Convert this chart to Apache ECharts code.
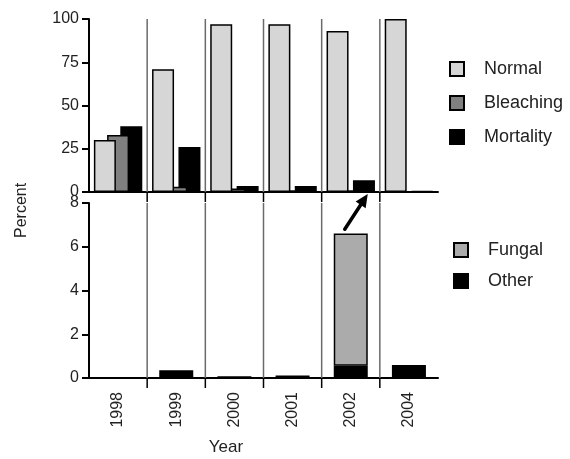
<!DOCTYPE html>
<html>
<head>
<meta charset="utf-8">
<script src="https://cdn.jsdelivr.net/npm/echarts@6/dist/echarts.min.js"></script>
<style>
  html, body { margin: 0; padding: 0; background: #fff; }
  #chart { width: 570px; height: 459px; }
</style>
</head>
<body>
<div id="chart"></div>
<script>
// Survey years
const years = ['1998', '1999', '2000', '2001', '2002', '2004'];

// Upper panel: colony condition (%)
const normal = [30, 71, 97, 97, 93, 100];
const bleaching = [33, 3, 2, 1, 1, 0.3];
const mortality = [38, 26, 3.5, 3.5, 6.8, 0.5];

// Lower panel: cause of mortality (%)
const fungal = [0, 0, 0, 0, 6.05, 0];
const other = [0.03, 0.36, 0.08, 0.12, 0.56, 0.6];

// Tick values
const topTicks = [0, 25, 50, 75, 100];
const bottomTicks = [0, 2, 4, 6, 8];

// Category boundaries where the vertical separators sit
const boundaries = [1, 2, 3, 4, 5];

const FONT = "'Liberation Sans', Arial, Helvetica, sans-serif";
const TXT = '#222';

const chart = echarts.init(document.getElementById('chart'), null, { renderer: 'canvas' });

function separatorSeries(gridIdx, yTop) {
  return {
    type: 'custom',
    xAxisIndex: gridIdx + 2,
    yAxisIndex: gridIdx,
    z: 1,
    silent: true,
    data: boundaries.map(b => [b, 0]),
    renderItem: function (params, api) {
      const top = api.coord([api.value(0), yTop]);
      const bot = api.coord([api.value(0), 0]);
      return {
        type: 'group',
        children: [
          { type: 'line', shape: { x1: bot[0], y1: top[1], x2: bot[0], y2: bot[1] },
            style: { stroke: '#6a6a6a', lineWidth: 1.5 } },
          { type: 'line', shape: { x1: bot[0], y1: bot[1], x2: bot[0], y2: bot[1] + 10 },
            style: { stroke: '#000', lineWidth: 1.5 } }
        ]
      };
    }
  };
}

const barBorder = { borderColor: '#000', borderWidth: 1.5 };

chart.setOption({
  animation: false,
  textStyle: { fontFamily: FONT },
  grid: [
    { left: 89, top: 19, width: 349, height: 173 },
    { left: 89, top: 203, width: 349, height: 175 }
  ],
  legend: [
    {
      data: ['Normal', 'Bleaching', 'Mortality'],
      orient: 'vertical', left: 444, top: 55,
      itemWidth: 14, itemHeight: 14, itemGap: 16,
      icon: 'rect',
      textStyle: { fontSize: 18, color: TXT, fontFamily: FONT, padding: [0, 0, 0, 15] }
    },
    {
      data: ['Fungal', 'Other'],
      orient: 'vertical', left: 448, top: 236,
      itemWidth: 14, itemHeight: 14, itemGap: 13,
      icon: 'rect',
      textStyle: { fontSize: 18, color: TXT, fontFamily: FONT, padding: [0, 0, 0, 15] }
    }
  ],
  xAxis: [
    { type: 'category', gridIndex: 0, data: years,
      axisLine: { lineStyle: { color: '#000', width: 2 } },
      axisTick: { show: false }, axisLabel: { show: false }, splitLine: { show: false } },
    { type: 'category', gridIndex: 1, data: years,
      axisLine: { lineStyle: { color: '#000', width: 2 } },
      axisTick: { show: false },
      axisLabel: { rotate: 90, fontSize: 16, color: TXT, fontFamily: FONT, margin: 14 },
      splitLine: { show: false } },
    { type: 'value', gridIndex: 0, min: 0, max: 6, show: false },
    { type: 'value', gridIndex: 1, min: 0, max: 6, show: false }
  ],
  yAxis: [
    { type: 'value', gridIndex: 0, min: topTicks[0], max: topTicks[topTicks.length - 1], interval: 25,
      axisLine: { show: true, lineStyle: { color: '#000', width: 2 } },
      axisTick: { show: true, length: 7, lineStyle: { color: '#000', width: 2 } },
      axisLabel: { fontSize: 16, color: TXT, fontFamily: FONT, margin: 10 },
      splitLine: { show: false } },
    { type: 'value', gridIndex: 1, min: bottomTicks[0], max: bottomTicks[bottomTicks.length - 1], interval: 2,
      axisLine: { show: true, lineStyle: { color: '#000', width: 2 } },
      axisTick: { show: true, length: 7, lineStyle: { color: '#000', width: 2 } },
      axisLabel: { fontSize: 16, color: TXT, fontFamily: FONT, margin: 10 },
      splitLine: { show: false } }
  ],
  series: [
    { name: 'Normal', type: 'bar', xAxisIndex: 0, yAxisIndex: 0, z: 5,
      barWidth: 22, barGap: '-40%', data: normal,
      itemStyle: Object.assign({ color: '#d6d6d6' }, barBorder) },
    { name: 'Bleaching', type: 'bar', xAxisIndex: 0, yAxisIndex: 0, z: 4,
      barWidth: 22, barGap: '-40%', data: bleaching,
      itemStyle: Object.assign({ color: '#808080' }, barBorder) },
    { name: 'Mortality', type: 'bar', xAxisIndex: 0, yAxisIndex: 0, z: 3,
      barWidth: 22, barGap: '-40%', data: mortality,
      itemStyle: Object.assign({ color: '#000' }, barBorder) },
    { name: 'Other', type: 'bar', xAxisIndex: 1, yAxisIndex: 1, stack: 'cause',
      barWidth: 34, data: other,
      itemStyle: Object.assign({ color: '#000' }, barBorder) },
    { name: 'Fungal', type: 'bar', xAxisIndex: 1, yAxisIndex: 1, stack: 'cause',
      barWidth: 34, data: fungal.map(v => (v > 0 ? v : null)),
      itemStyle: Object.assign({ color: '#ababab' }, barBorder) },
    separatorSeries(0, 100),
    separatorSeries(1, 8)
  ]
});

// Axis titles and the arrow linking the 2002 mortality bar to its breakdown
function drawOverlay() {
  const tail = chart.convertToPixel({ xAxisIndex: 1, yAxisIndex: 1 }, ['2002', 6.8]);
  const head = chart.convertToPixel({ xAxisIndex: 0, yAxisIndex: 0 }, ['2002', 0]);
  const x1 = tail[0] - 6, y1 = tail[1];
  const x2 = head[0] + 17, y2 = head[1] + 2;
  const dx = x2 - x1, dy = y2 - y1;
  const len = Math.sqrt(dx * dx + dy * dy);
  const ux = dx / len, uy = dy / len;
  const hl = 13, hw = 6;
  const bx = x2 - ux * hl, by = y2 - uy * hl;

  chart.setOption({
    graphic: [
      { type: 'text', x: 14, y: 238, rotation: Math.PI / 2,
        style: { text: 'Percent', fontSize: 16, fill: TXT, fontFamily: FONT } },
      { type: 'text', x: 226, y: 447,
        style: { text: 'Year', fontSize: 17, fill: TXT, fontFamily: FONT,
                 textAlign: 'center', textVerticalAlign: 'middle' } },
      { type: 'line', z: 10,
        shape: { x1: x1, y1: y1, x2: bx + ux * 2, y2: by + uy * 2 },
        style: { stroke: '#000', lineWidth: 3.5, lineCap: 'round' } },
      { type: 'polygon', z: 10,
        shape: { points: [[x2, y2], [bx - uy * hw, by + ux * hw], [bx + uy * hw, by - ux * hw]] },
        style: { fill: '#000' } }
    ]
  });
}
drawOverlay();
</script>
</body>
</html>
